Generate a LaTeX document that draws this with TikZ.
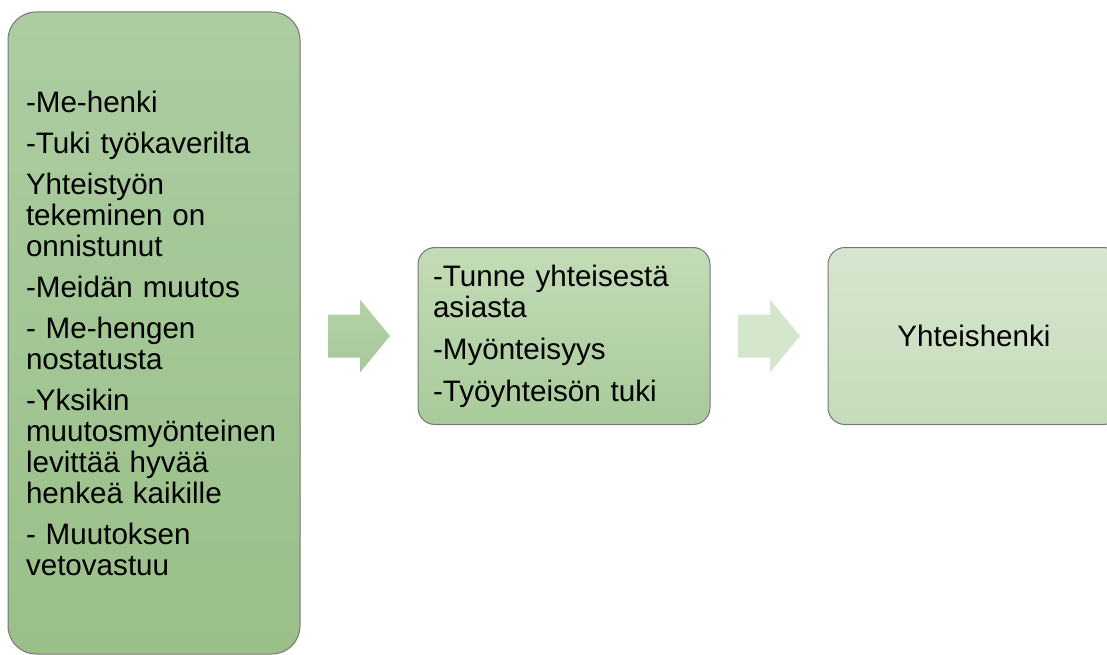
\documentclass[tikz,border=0pt]{standalone}
\usepackage{fontspec}
\setmainfont{Liberation Sans}
\usepackage{tikz}
\usetikzlibrary{positioning,calc}
\definecolor{boxline}{RGB}{118,118,118}
\definecolor{leftTop}{RGB}{172,205,162}
\definecolor{leftBot}{RGB}{154,191,136}
\definecolor{midTop}{RGB}{195,220,183}
\definecolor{midBot}{RGB}{168,202,154}
\definecolor{rightTop}{RGB}{215,230,207}
\definecolor{rightBot}{RGB}{197,220,186}
\definecolor{arrowTop}{RGB}{180,211,168}
\definecolor{arrowBot}{RGB}{166,201,152}
\definecolor{arrowLight}{RGB}{212,230,204}

\begin{document}
\begin{tikzpicture}[x=1pt, y=-1pt,
  box/.style={draw=boxline, line width=1pt, rounded corners=17pt,
    minimum width=292pt, minimum height=177pt, inner sep=0pt,
    text width=262pt, align=left, font=\fontsize{29.6}{31}\selectfont},
  flowarrow/.pic={\path[pic actions] (-31,-21.5) -- (1,-21.5) -- (1,-36.5)
    -- (31,0) -- (1,36.5) -- (1,21.5) -- (-31,21.5) -- cycle;}]
  \useasboundingbox (0,0) rectangle (1107,655);
  \clip (0,0) rectangle (1107,655);

  % boxes
  \node[box, rounded corners=28pt, minimum height=642pt, text width=256pt,
    top color=leftTop, bottom color=leftBot] (left) at (154,333) {%
    -Me-henki\\[10pt]
    -Tuki työkaverilta\\[10pt]
    Yhteistyön\\ tekeminen on\\ onnistunut\\[10pt]
    -Meidän muutos\\[10pt]
    - Me-hengen\\ nostatusta\\[10pt]
    -Yksikin\\ muutosmyönteinen\\ levittää hyvää\\ henkeä kaikille\\[10pt]
    - Muutoksen\\ vetovastuu};
  \node[box, top color=midTop, bottom color=midBot] (mid) at (564,336) {%
    -Tunne yhteisestä\\ asiasta\\[11pt]
    -Myönteisyys\\[11pt]
    -Työyhteisön tuki};
  \node[box, align=center, top color=rightTop, bottom color=rightBot,
    right=117pt of mid] (right) {Yhteishenki};

  % arrows
  \pic[top color=arrowTop, bottom color=arrowBot]
    at ($(left.east |- mid.west)!0.5!(mid.west)$) {flowarrow};
  \pic[fill=arrowLight] at ($(mid.east)!0.5!(right.west)$) {flowarrow};
\end{tikzpicture}
\end{document}
